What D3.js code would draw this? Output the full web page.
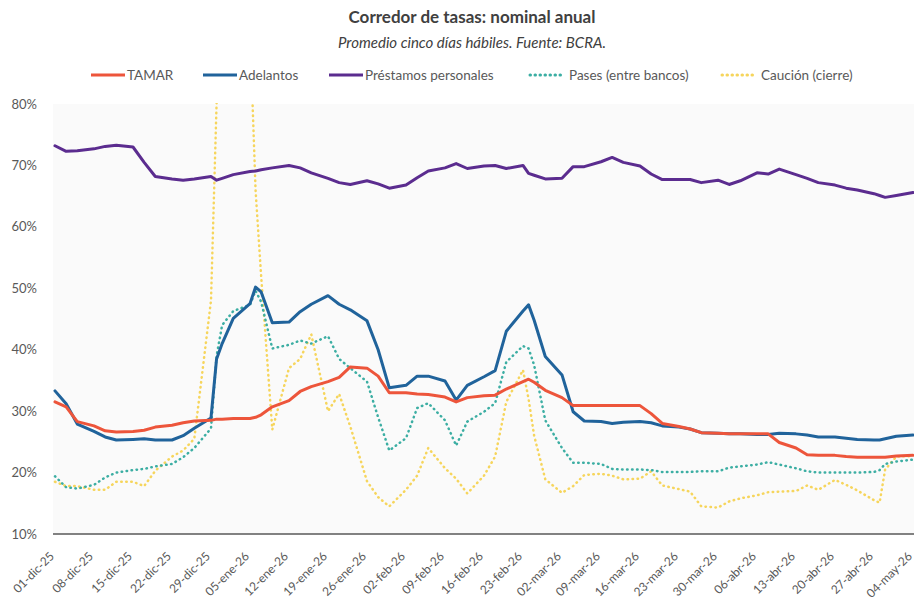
<!DOCTYPE html>
<html>
<head>
<meta charset="utf-8">
<script src="https://cdn.jsdelivr.net/npm/d3@7"></script>
<style>
  body { margin:0; background:#fff; }
  svg { font-family: Lato, "Open Sans", sans-serif; display:block; }
</style>
</head>
<body>
<div id="chart"></div>
<script>
// Corredor de tasas (% nominal anual), promedio 5 días hábiles
const dates = [
  "2025-12-01","2025-12-03","2025-12-05","2025-12-08","2025-12-10","2025-12-12","2025-12-15","2025-12-17","2025-12-19","2025-12-22","2025-12-24","2025-12-26","2025-12-29","2025-12-30","2025-12-31",
  "2026-01-02","2026-01-05","2026-01-06","2026-01-07","2026-01-09","2026-01-12","2026-01-14","2026-01-16","2026-01-19","2026-01-21","2026-01-23","2026-01-26","2026-01-28","2026-01-30",
  "2026-02-02","2026-02-04","2026-02-06","2026-02-09","2026-02-11","2026-02-13","2026-02-16","2026-02-18","2026-02-20","2026-02-23","2026-02-24","2026-02-25","2026-02-27",
  "2026-03-02","2026-03-04","2026-03-06","2026-03-09","2026-03-11","2026-03-13","2026-03-16","2026-03-18","2026-03-20","2026-03-23","2026-03-25","2026-03-27","2026-03-30",
  "2026-04-01","2026-04-03","2026-04-06","2026-04-08","2026-04-10","2026-04-13","2026-04-15","2026-04-17","2026-04-20","2026-04-22","2026-04-24","2026-04-27","2026-04-28","2026-04-29",
  "2026-05-01","2026-05-04"
];
const tamar = [
  31.5,30.7,28.3,27.6,26.8,26.6,26.7,26.9,27.4,27.7,28.1,28.4,28.5,28.7,28.7,
  28.8,28.8,29.0,29.4,30.7,31.7,33.2,34.0,34.8,35.5,37.2,37.0,35.7,33.0,
  33.0,32.8,32.7,32.3,31.5,32.2,32.5,32.6,33.6,34.8,35.2,34.7,33.4,
  32.2,30.9,30.9,30.9,30.9,30.9,30.9,29.6,28.0,27.5,27.1,26.5,26.4,
  26.3,26.3,26.3,26.3,24.9,24.0,22.9,22.8,22.8,22.6,22.5,22.5,22.5,22.5,
  22.7,22.8
];
const adelantos = [
  33.3,31.2,27.9,26.7,25.8,25.3,25.4,25.5,25.3,25.3,26.0,27.2,28.9,38.5,41.0,
  45.1,47.5,50.2,49.4,44.4,44.5,46.2,47.4,48.8,47.4,46.5,44.7,40.0,33.8,
  34.2,35.7,35.7,34.9,31.8,34.2,35.6,36.6,43.0,46.3,47.3,44.8,38.9,
  35.9,29.9,28.4,28.3,28.0,28.2,28.3,28.1,27.6,27.4,27.1,26.5,26.4,
  26.3,26.3,26.2,26.2,26.4,26.3,26.1,25.8,25.8,25.6,25.4,25.3,25.3,25.5,
  25.9,26.1
];
const prestamos = [
  73.2,72.3,72.4,72.7,73.1,73.3,73.0,70.5,68.2,67.8,67.6,67.8,68.2,67.6,67.9,
  68.5,69.0,69.1,69.3,69.6,70.0,69.6,68.8,67.9,67.2,66.9,67.5,67.0,66.3,
  66.8,68.0,69.1,69.6,70.3,69.5,69.9,70.0,69.5,70.0,68.7,68.4,67.8,
  67.9,69.8,69.8,70.6,71.3,70.5,69.9,68.6,67.7,67.7,67.7,67.2,67.6,
  66.9,67.5,68.8,68.6,69.4,68.5,67.9,67.2,66.8,66.3,66.0,65.4,65.1,64.8,
  65.1,65.6
];
const pases = [
  19.4,17.6,17.4,18.0,19.2,20.0,20.4,20.6,21.0,21.4,22.5,24.0,27.2,39.0,44.0,
  46.3,47.3,49.6,47.8,40.2,40.8,41.5,41.0,42.2,38.5,37.0,34.8,29.0,23.6,
  25.6,30.5,31.3,28.5,24.4,28.3,29.9,31.3,38.0,40.6,40.2,37.5,28.5,
  24.0,21.6,21.6,21.4,20.6,20.5,20.5,20.4,20.1,20.1,20.1,20.2,20.2,
  20.8,21.0,21.3,21.7,21.3,20.7,20.2,20.0,20.0,20.0,20.0,20.1,20.4,21.4,
  21.8,22.1
];
const caucion = [
  18.5,17.8,17.8,17.2,17.2,18.5,18.5,17.8,20.3,22.6,23.6,25.5,48.0,80.0,100.0,
  125.0,92.0,66.0,52.0,27.0,37.0,38.5,42.5,30.0,32.8,27.5,18.6,16.0,14.5,
  17.2,19.5,24.0,20.7,19.0,16.6,19.5,22.6,31.5,36.7,32.0,26.0,18.9,
  16.7,17.8,19.6,19.8,19.5,18.9,19.0,20.2,17.9,17.3,16.9,14.5,14.3,
  15.3,15.8,16.3,16.8,16.9,17.0,17.9,17.2,18.8,18.0,17.1,15.5,15.1,20.5,
  22.6,22.7
];
const seriesNames = ["TAMAR","Adelantos","Préstamos personales","Pases (entre bancos)","Caución (cierre)"];
const seriesColors = ["#ED553B","#20639B","#5B2C8F","#3CAEA3","#F6D55C"];
const seriesDotted = [false,false,false,true,true];
const yTicks = [10,20,30,40,50,60,70,80];
const xTickLabels = ["01-dic-25","08-dic-25","15-dic-25","22-dic-25","29-dic-25","05-ene-26","12-ene-26","19-ene-26","26-ene-26",
  "02-feb-26","09-feb-26","16-feb-26","23-feb-26","02-mar-26","09-mar-26","16-mar-26","23-mar-26","30-mar-26",
  "06-abr-26","13-abr-26","20-abr-26","27-abr-26","04-may-26"];

const W = 914, H = 601;
const m = {l:55, r:1, t:104, b:67};
const parse = d3.timeParse("%Y-%m-%d");
const meses = {ene:0,feb:1,mar:2,abr:3,may:4,jun:5,jul:6,ago:7,sep:8,oct:9,nov:10,dic:11};
const tickDate = s => { const [d,mo,y] = s.split("-"); return new Date(2000+ +y, meses[mo], +d); };
const xs = dates.map(parse);

const x = d3.scaleTime().domain([xs[0], xs[xs.length-1]]).range([m.l, W-m.r]);
const y = d3.scaleLinear().domain([10,80]).range([H-m.b, m.t]);

const svg = d3.select("#chart").append("svg").attr("width",W).attr("height",H);

// títulos
svg.append("text").attr("x",472).attr("y",23).attr("text-anchor","middle")
  .attr("font-size",17).attr("font-weight","bold").attr("fill","#404040").text("Corredor de tasas: nominal anual");
svg.append("text").attr("x",472).attr("y",48).attr("text-anchor","middle")
  .attr("font-size",15).attr("font-style","italic").attr("fill","#404040").text("Promedio cinco días hábiles. Fuente: BCRA.");

// leyenda
const legX = [91, 203, 329, 530, 722];
seriesNames.forEach((n,i)=>{
  const g = svg.append("g").attr("transform",`translate(${legX[i]},75)`);
  g.append("line").attr("x1",0).attr("x2",34).attr("stroke",seriesColors[i]).attr("stroke-width",3)
    .attr("stroke-dasharray", seriesDotted[i] ? "0.5,4.5" : null)
    .attr("stroke-linecap", seriesDotted[i] ? "round" : "butt");
  g.append("text").attr("x",seriesDotted[i]?39:36).attr("dy","0.35em").attr("font-size",13.5).attr("fill","#595959").text(n);
});

// área de trazado
svg.append("rect").attr("x",53).attr("y",m.t).attr("width",W-53).attr("height",y(10)-m.t).attr("fill","#fafafa");
svg.append("clipPath").attr("id","clip").append("rect").attr("x",53).attr("y",m.t-1).attr("width",W-53).attr("height",y(10)-m.t+1);

// eje Y
svg.append("g").selectAll("text").data(yTicks).join("text")
  .attr("x",37).attr("y",d=>y(d)).attr("dy","0.35em").attr("text-anchor","end")
  .attr("font-size",13).attr("fill","#595959").text(d=>d+"%");

// eje X
svg.append("line").attr("x1",53).attr("x2",W).attr("y1",y(10)).attr("y2",y(10)).attr("stroke","#595959").attr("stroke-width",1.5);
svg.append("g").selectAll("text").data(xTickLabels).join("text")
  .attr("transform",d=>`translate(${x(tickDate(d))-3},${y(10)+20}) rotate(-45)`)
  .attr("text-anchor","end").attr("dy","0.35em").attr("font-size",12).attr("fill","#595959").text(d=>d);

// series
const line = d3.line().x((d,i)=>x(xs[i])).y(d=>y(d));
const allSeries = [tamar, adelantos, prestamos, pases, caucion];
const drawOrder = [4,3,2,1,0];
const gl = svg.append("g").attr("clip-path","url(#clip)");
drawOrder.forEach(i=>{
  gl.append("path").attr("d",line(allSeries[i])).attr("fill","none")
    .attr("stroke",seriesColors[i]).attr("stroke-width",seriesDotted[i]?2.5:3)
    .attr("stroke-linejoin","round")
    .attr("stroke-dasharray", seriesDotted[i] ? "0.5,4.5" : null)
    .attr("stroke-linecap","round");
});
</script>
</body>
</html>
